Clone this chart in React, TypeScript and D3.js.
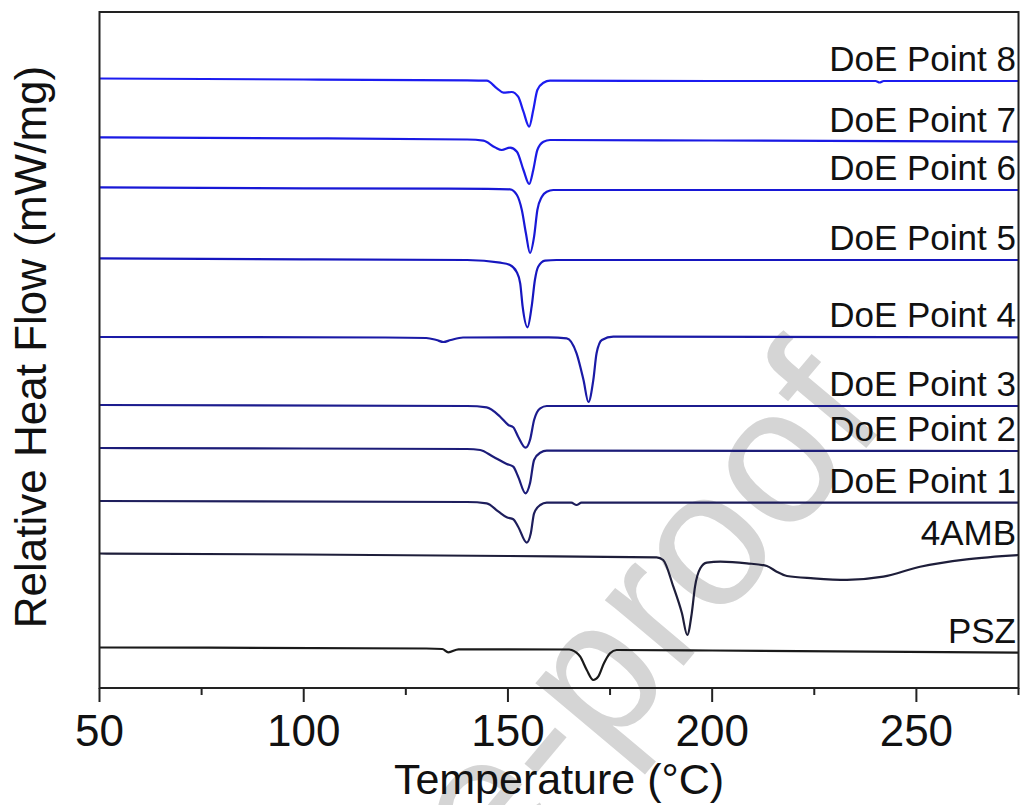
import React, { useEffect, useRef } from 'react';
import * as d3 from 'd3';

// temperature (°C), relative heat flow (arbitrary, stacked)
const names = ['DoE Point 8', 'DoE Point 7', 'DoE Point 6', 'DoE Point 5', 'DoE Point 4',
  'DoE Point 3', 'DoE Point 2', 'DoE Point 1', '4AMB', 'PSZ'];

const colors = ['#1c1cf0', '#1a1ae4', '#1818d6', '#1616bf', '#1a1aa6',
  '#1c1c8e', '#1c1c78', '#1e1e5c', '#1e1e3a', '#1a1a1a'];

const point8 = [[50, 60.95], [100, 60.85], [140, 60.77], [144.8, 60.73], [147.3, 59.97], [148.9, 59.53],
  [150.9, 59.6], [152.5, 59.13], [153.8, 57.63], [155.2, 56.13], [156.2, 57.8], [157.2, 59.8],
  [158.7, 60.53], [160.3, 60.73], [200, 60.7], [240, 60.7], [241, 60.55], [242, 60.7], [275, 60.7]];

const point7 = [[50, 55.07], [100, 54.97], [140, 54.85], [144, 54.73], [146.8, 54.07], [148.5, 53.8],
  [150.5, 54.03], [152.2, 53.63], [153.8, 51.8], [155.2, 50.4], [156.2, 51.8], [157.2, 53.8],
  [158.7, 54.63], [160.3, 54.8], [200, 54.75], [275, 54.63]];

const point6 = [[50, 50.07], [100, 49.97], [145, 49.92], [150.5, 49.87], [152.2, 49.3], [153.4, 47.8],
  [154.4, 45.47], [155.4, 43.5], [156.4, 45.13], [157.2, 47.8], [158.3, 49.13], [159.5, 49.63],
  [161.1, 49.8], [275, 49.8]];

const point5 = [[50, 42.97], [100, 42.87], [140, 42.8], [148.1, 42.53], [150.5, 42.3], [152.1, 41.63],
  [153, 40.47], [153.6, 38.13], [154.8, 36.07], [155.8, 38.13], [156.6, 40.8], [157.4, 42.13],
  [159.1, 42.73], [161.9, 42.8], [275, 42.8]];

const point4 = [[50, 35.1], [120, 35.05], [130, 35], [132.5, 34.8], [134.2, 34.6], [136, 34.8],
  [139, 35.05], [160, 35.07], [164.4, 34.97], [166.8, 33.47], [168.5, 30.8], [169.7, 28.6],
  [170.9, 30.8], [171.7, 33.47], [173, 34.8], [175.8, 35.13], [275, 35.07]];

const point3 = [[50, 28.3], [140, 28.2], [144.8, 28.07], [148.1, 27.13], [150.1, 26.3], [151.3, 26.07],
  [152.5, 25.13], [154.3, 24.03], [155.4, 24.8], [156.4, 26.8], [157.9, 27.97], [159.5, 28.2],
  [275, 28.2]];

const point2 = [[50, 24], [100, 23.95], [140, 23.9], [143.2, 23.8], [146.4, 23.13], [149.7, 22.4],
  [151.3, 22.13], [152.5, 21.13], [154.3, 19.47], [155.4, 20.47], [156.4, 22.8], [157.9, 23.53],
  [159.5, 23.73], [275, 23.7]];

const point1 = [[50, 18.7], [140, 18.6], [144.8, 18.47], [147.7, 17.63], [149.7, 17.07], [151.3, 16.87],
  [152.5, 16.13], [154.6, 14.53], [155.6, 15.47], [156.4, 17.47], [157.9, 18.3], [159.5, 18.53],
  [165.5, 18.53], [166.8, 18.3], [168, 18.53], [275, 18.53]];

const amb4 = [[50, 13.45], [100, 13.35], [150, 13.2], [186.4, 13.07], [188, 12.8], [190.5, 10.13],
  [192.6, 7.47], [193.9, 5.3], [195, 7.47], [195.8, 10.13], [197.1, 11.97], [198.7, 12.53],
  [202, 12.63], [208.5, 12.47], [213.4, 12.2], [215.8, 11.63], [218.3, 11.2], [224.8, 10.97],
  [233, 10.82], [241.9, 11.13], [250.9, 12.13], [262.3, 12.87], [275, 13.3]];

const psz = [[50, 4.05], [130, 3.95], [133.9, 3.9], [135.4, 3.57], [137.9, 3.87], [165, 3.85],
  [165.6, 3.8], [167.7, 3.13], [169.3, 1.8], [170.9, 0.8], [172.1, 1.13], [173.5, 2.47],
  [175, 3.47], [176.6, 3.8], [200, 3.75], [275, 3.53]];

const series = [point8, point7, point6, point5, point4, point3, point2, point1, amb4, psz];

const majorTicks = [50, 100, 150, 200, 250];
const minorTicks = [75, 125, 175, 225, 275];

const font = 'Liberation Sans, Arial, sans-serif';

export default function App() {
  const ref = useRef<SVGSVGElement>(null);

  useEffect(() => {
    const svg = d3.select(ref.current);
    svg.selectAll('*').remove();

    const x = d3.scaleLinear().domain([50, 275]).range([99.5, 1018.5]);
    const y = d3.scaleLinear().domain([0, 67.6]).range([688, 12]);

    // watermark
    svg.append('text')
      .attr('transform', 'translate(890,420) rotate(-50)')
      .attr('text-anchor', 'end')
      .attr('font-family', font)
      .attr('font-size', 194)
      .attr('fill', '#d5d5d5')
      .text('Journal Pre-proof');

    const line = d3.line<number[]>()
      .x(d => x(d[0]))
      .y(d => y(d[1]))
      .curve(d3.curveMonotoneX);

    series.forEach((s, i) => {
      svg.append('path')
        .attr('d', line(s))
        .attr('fill', 'none')
        .attr('stroke', colors[i])
        .attr('stroke-width', 2.2)
        .attr('stroke-linejoin', 'round');

      const last = s[s.length - 1];
      svg.append('text')
        .attr('x', 1016)
        .attr('y', y(last[1]) - 10)
        .attr('text-anchor', 'end')
        .attr('font-family', font)
        .attr('font-size', 35)
        .attr('fill', '#111')
        .text(names[i]);
    });

    // frame
    svg.append('rect')
      .attr('x', x(50)).attr('y', y(67.6))
      .attr('width', x(275) - x(50)).attr('height', y(0) - y(67.6))
      .attr('fill', 'none')
      .attr('stroke', '#222')
      .attr('stroke-width', 2);

    const axis = svg.append('g').attr('transform', `translate(0,${y(0)})`);
    axis.selectAll('.major').data(majorTicks).join('line')
      .attr('x1', d => x(d)).attr('x2', d => x(d))
      .attr('y1', 0).attr('y2', 14)
      .attr('stroke', '#222').attr('stroke-width', 2);
    axis.selectAll('.minor').data(minorTicks).join('line')
      .attr('x1', d => x(d)).attr('x2', d => x(d))
      .attr('y1', 0).attr('y2', 7)
      .attr('stroke', '#222').attr('stroke-width', 2);
    axis.selectAll('.lbl').data(majorTicks).join('text')
      .attr('x', d => x(d))
      .attr('y', 58)
      .attr('text-anchor', 'middle')
      .attr('font-family', font)
      .attr('font-size', 44)
      .attr('fill', '#111')
      .text(d => d);

    svg.append('text')
      .attr('x', (x(50) + x(275)) / 2)
      .attr('y', 794)
      .attr('text-anchor', 'middle')
      .attr('font-family', font)
      .attr('font-size', 43)
      .attr('fill', '#111')
      .text('Temperature (°C)');

    svg.append('text')
      .attr('transform', 'translate(46,347) rotate(-90)')
      .attr('text-anchor', 'middle')
      .attr('font-family', font)
      .attr('font-size', 44)
      .attr('fill', '#111')
      .text('Relative Heat Flow (mW/mg)');
  }, []);

  return (
    <svg ref={ref} width={1021} height={805}
      style={{ position: 'absolute', left: 0, top: 0, background: '#fff' }} />
  );
}
